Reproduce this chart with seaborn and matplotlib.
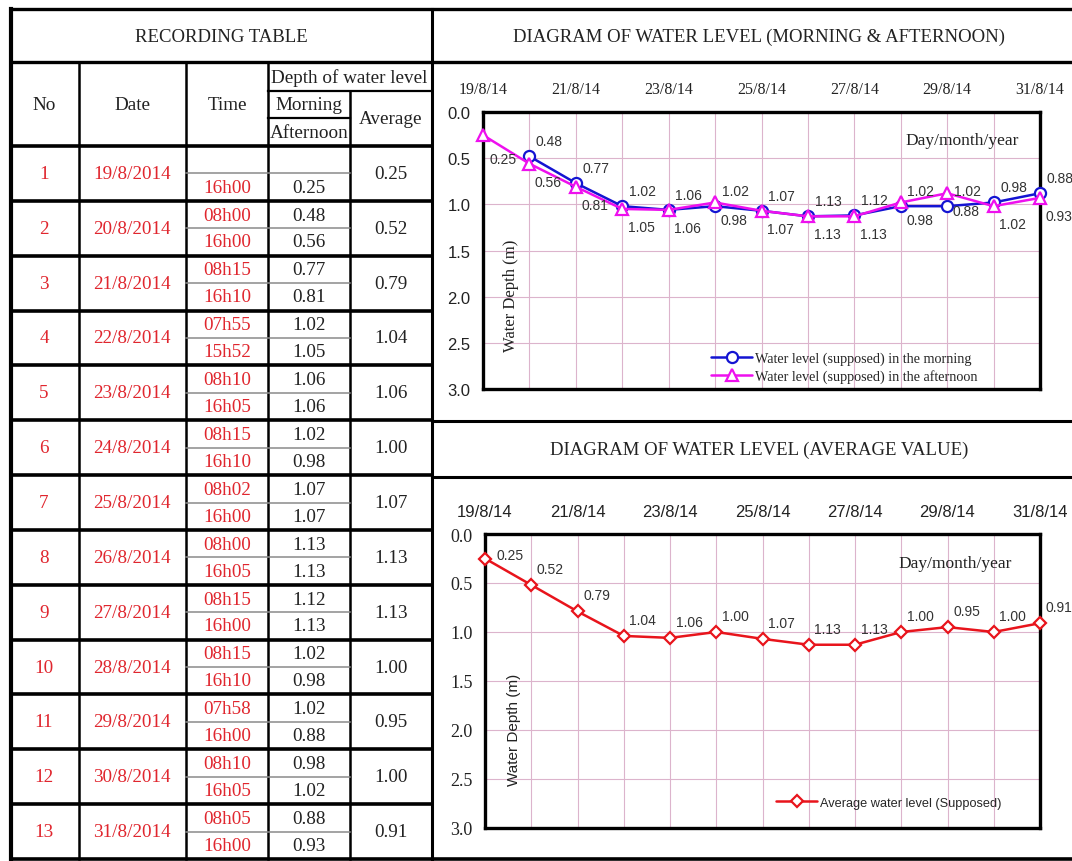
import numpy as np
import pandas as pd
import matplotlib
matplotlib.use("Agg")
import matplotlib.pyplot as plt
import seaborn as sns
from matplotlib import font_manager

# ---------------- data ----------------
row_no = list(range(1, 14))
dates = ["19/8/2014", "20/8/2014", "21/8/2014", "22/8/2014", "23/8/2014", "24/8/2014",
         "25/8/2014", "26/8/2014", "27/8/2014", "28/8/2014", "29/8/2014", "30/8/2014",
         "31/8/2014"]
time_morning = ["", "08h00", "08h15", "07h55", "08h10", "08h15", "08h02", "08h00",
                "08h15", "08h15", "07h58", "08h10", "08h05"]
time_afternoon = ["16h00", "16h00", "16h10", "15h52", "16h05", "16h10", "16h00", "16h05",
                  "16h00", "16h10", "16h00", "16h05", "16h00"]
depth_morning = [np.nan, 0.48, 0.77, 1.02, 1.06, 1.02, 1.07, 1.13, 1.12, 1.02, 1.02, 0.98, 0.88]
depth_afternoon = [0.25, 0.56, 0.81, 1.05, 1.06, 0.98, 1.07, 1.13, 1.13, 0.98, 0.88, 1.02, 0.93]
depth_average = [0.25, 0.52, 0.79, 1.04, 1.06, 1.00, 1.07, 1.13, 1.13, 1.00, 0.95, 1.00, 0.91]
chart_tick_labels = ["19/8/14", "21/8/14", "23/8/14", "25/8/14", "27/8/14", "29/8/14", "31/8/14"]
depth_ticks = [0.0, 0.5, 1.0, 1.5, 2.0, 2.5, 3.0]

# ---------------- style ----------------
sns.set_style("white")
names = {f.name for f in font_manager.fontManager.ttflist}
SERIF = "Liberation Serif"
SANS = "Liberation Sans"
NARROW = "Liberation Sans Narrow" if "Liberation Sans Narrow" in names else "Liberation Sans"
plt.rcParams["font.family"] = [SERIF, "DejaVu Serif"]

RED_TXT = "#e0262e"
BLUE = "#1414d2"
MAGENTA = "#ee10ee"
RED = "#e8141c"
GRID = "#dcb4cc"
TXT = "#222222"

W, H = 1072, 862
fig = plt.figure(figsize=(W / 100, H / 100), dpi=100)
bg = fig.add_axes([0, 0, 1, 1])
bg.set_xlim(0, W)
bg.set_ylim(H, 0)
bg.axis("off")


def hline(y, x0, x1, lw=2.2, color="black"):
    bg.plot([x0, x1], [y, y], color=color, lw=lw, solid_capstyle="projecting")


def vline(x, y0, y1, lw=2.2, color="black"):
    bg.plot([x, x], [y0, y1], color=color, lw=lw, solid_capstyle="projecting")


# ---------------- table frame ----------------
top, head_bot, tab_top, bottom = 10, 63, 147, 860
row_h = (bottom - tab_top) / len(row_no)
cx = [11, 79, 186, 268, 350, 432]

hline(top, 11, W, lw=2.4)
hline(head_bot, 11, W, lw=2.4)
hline(tab_top, 11, 432, lw=2.6)
hline(bottom, 11, W, lw=2.6)
vline(cx[0], top, bottom, lw=3.0)
for x in cx[1:4]:
    vline(x, head_bot, bottom, lw=1.8)
vline(cx[4], 92, bottom, lw=1.8)
vline(cx[5], top, bottom, lw=2.2)
hline(92, 268, 432, lw=1.6)
hline(119, 268, 350, lw=1.6)
for k in range(1, len(row_no)):
    hline(tab_top + k * row_h, 11, 432, lw=2.6)
for k in range(len(row_no)):
    hline(tab_top + k * row_h + row_h / 2, 186, 350, lw=1.1, color="#8a8a8a")
hline(422, 432, W, lw=2.2)
hline(478, 432, W, lw=2.2)

# headers
HS = 13.8
bg.text(221, 37, "RECORDING TABLE", ha="center", va="center", fontsize=13.5, color=TXT)
bg.text(44, 105, "No", ha="center", va="center", fontsize=HS, color=TXT)
bg.text(132, 105, "Date", ha="center", va="center", fontsize=HS, color=TXT)
bg.text(227, 105, "Time", ha="center", va="center", fontsize=HS, color=TXT)
bg.text(349, 78, "Depth of water level", ha="center", va="center", fontsize=HS, color=TXT)
bg.text(309, 105, "Morning", ha="center", va="center", fontsize=HS, color=TXT)
bg.text(309, 133, "Afternoon", ha="center", va="center", fontsize=HS, color=TXT)
bg.text(391, 119, "Average", ha="center", va="center", fontsize=HS, color=TXT)
bg.text(759, 37, "DIAGRAM OF WATER LEVEL (MORNING & AFTERNOON)", ha="center", va="center",
        fontsize=13.5, color=TXT)
bg.text(759, 450, "DIAGRAM OF WATER LEVEL (AVERAGE VALUE)", ha="center", va="center",
        fontsize=13.5, color=TXT)

# rows
CS = 13.8
for k in range(len(row_no)):
    y0 = tab_top + k * row_h
    yc = y0 + row_h / 2
    yt = y0 + row_h * 0.26
    yb = y0 + row_h * 0.75
    bg.text(44, yc, str(row_no[k]), ha="center", va="center", fontsize=CS, color=RED_TXT)
    bg.text(132, yc, dates[k], ha="center", va="center", fontsize=CS, color=RED_TXT)
    bg.text(227, yt, time_morning[k], ha="center", va="center", fontsize=CS, color=RED_TXT)
    bg.text(227, yb, time_afternoon[k], ha="center", va="center", fontsize=CS, color=RED_TXT)
    if not np.isnan(depth_morning[k]):
        bg.text(309, yt, f"{depth_morning[k]:.2f}", ha="center", va="center", fontsize=CS, color=TXT)
    bg.text(309, yb, f"{depth_afternoon[k]:.2f}", ha="center", va="center", fontsize=CS, color=TXT)
    bg.text(391, yc, f"{depth_average[k]:.2f}", ha="center", va="center", fontsize=CS, color=TXT)


def px_axes(l, t, r, b):
    return fig.add_axes([l / W, 1 - b / H, (r - l) / W, (b - t) / H])


def style_axes(ax, xfont, xsize, yfont, ysize, xpad, ypad):
    n = len(dates)
    ax.set_xlim(0, n - 1)
    ax.set_ylim(3.0, 0.0)
    ax.xaxis.tick_top()
    ax.set_xticks(range(0, n, 2))
    ax.set_xticklabels(chart_tick_labels, fontfamily=xfont, fontsize=xsize, color=TXT)
    ax.set_xticks(range(n), minor=True)
    ax.set_yticks(depth_ticks)
    ax.set_yticklabels([f"{v:.1f}" for v in depth_ticks], fontfamily=yfont, fontsize=ysize,
                       color=TXT)
    ax.tick_params(which="both", length=0)
    ax.tick_params(axis="x", pad=xpad)
    ax.tick_params(axis="y", pad=ypad)
    ax.grid(True, which="both", axis="x", color=GRID, lw=0.8)
    ax.grid(True, which="major", axis="y", color=GRID, lw=0.8)
    for s in ax.spines.values():
        s.set_visible(True)
        s.set_color("black")
        s.set_linewidth(2.4)
    ax.set_xlabel("")
    ax.set_ylabel("")
    ax.set_facecolor("white")


# ---------------- chart 1 ----------------
idx = np.arange(len(dates))
df_m = pd.DataFrame({"day": idx, "depth": depth_morning}).dropna()
df_a = pd.DataFrame({"day": idx, "depth": depth_afternoon})

ax1 = px_axes(483, 113, 1040, 390)
sns.lineplot(data=df_m, x="day", y="depth", ax=ax1, color=BLUE, lw=1.8, marker="o",
             markersize=8, markerfacecolor="white", markeredgecolor=BLUE, markeredgewidth=1.6,
             label="Water level (supposed) in the morning", clip_on=False, zorder=3)
sns.lineplot(data=df_a, x="day", y="depth", ax=ax1, color=MAGENTA, lw=1.8, marker="^",
             markersize=9, markerfacecolor="white", markeredgecolor=MAGENTA, markeredgewidth=1.6,
             label="Water level (supposed) in the afternoon", clip_on=False, zorder=4)
style_axes(ax1, SERIF, 11.5, SANS, 12, 11, 9)

for d, v in zip(df_m["day"], df_m["depth"]):
    ax1.annotate(f"{v:.2f}", (d, v), xytext=(20, 15), textcoords="offset pixels",
                 ha="center", va="center", fontsize=10, fontfamily=SANS, color="#333333",
                 annotation_clip=False, zorder=5)
for d, v in zip(df_a["day"], df_a["depth"]):
    off = (20, -24) if d == 0 else (19, -18)
    ax1.annotate(f"{v:.2f}", (d, v), xytext=off, textcoords="offset pixels",
                 ha="center", va="center", fontsize=10, fontfamily=SANS, color="#333333",
                 annotation_clip=False, zorder=5)

ax1.text(0.86, 0.90, "Day/month/year", transform=ax1.transAxes, ha="center", va="center",
         fontsize=12.5, fontfamily=SERIF, color=TXT)
ax1.text(0.05, 0.34, "Water Depth (m)", transform=ax1.transAxes, ha="center", va="center",
         rotation=90, fontsize=12, fontfamily=SERIF, color=TXT)
ax1.legend(loc="lower left", bbox_to_anchor=(0.41, 0.02), frameon=False, borderpad=0,
           borderaxespad=0, handlelength=2.9, handletextpad=0.2, labelspacing=0.3,
           prop={"family": SERIF, "size": 10.2})

# ---------------- chart 2 ----------------
df_avg = pd.DataFrame({"day": idx, "depth": depth_average})
ax2 = px_axes(485, 535, 1040, 829)
sns.lineplot(data=df_avg, x="day", y="depth", ax=ax2, color=RED, lw=1.8, marker="D",
             markersize=6.5, markerfacecolor="white", markeredgecolor=RED, markeredgewidth=1.6,
             label="Average water level (Supposed)", clip_on=False, zorder=3)
style_axes(ax2, NARROW, 12, SERIF, 13, 11, 9)

for d, v in zip(df_avg["day"], df_avg["depth"]):
    off = (25, 3) if d == 0 else (19, 16)
    ax2.annotate(f"{v:.2f}", (d, v), xytext=off, textcoords="offset pixels",
                 ha="center", va="center", fontsize=10, fontfamily=NARROW, color="#333333",
                 annotation_clip=False, zorder=5)

ax2.text(0.847, 0.90, "Day/month/year", transform=ax2.transAxes, ha="center", va="center",
         fontsize=12.5, fontfamily=SERIF, color=TXT)
ax2.text(0.052, 0.337, "Water Depth (m)", transform=ax2.transAxes, ha="center", va="center",
         rotation=90, fontsize=11, fontfamily=NARROW, color=TXT)
ax2.legend(loc="lower left", bbox_to_anchor=(0.525, 0.065), frameon=False, borderpad=0,
           borderaxespad=0, handlelength=3.2, handletextpad=0.2,
           prop={"family": NARROW, "size": 9.2})

fig.savefig("out.png", dpi=100, facecolor="white")
